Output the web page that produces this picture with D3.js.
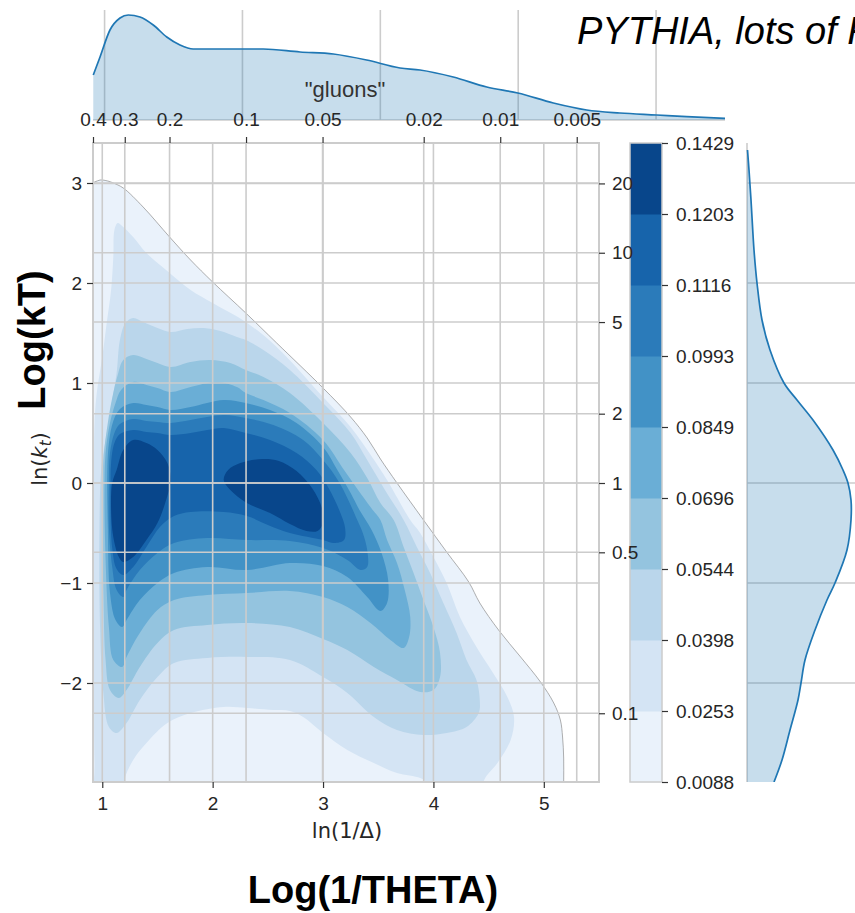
<!DOCTYPE html>
<html><head><meta charset="utf-8">
<script src="https://cdn.jsdelivr.net/npm/d3@7"></script>
<style>body{margin:0;background:#fff}svg{display:block}</style>
</head><body>
<svg id="chart" width="855" height="913"></svg>
<script>
// ---------------- data ----------------
const xTicks = [1, 2, 3, 4, 5];
const yTicks = [-2, -1, 0, 1, 2, 3];
const deltaTicks = [0.4, 0.3, 0.2, 0.1, 0.05, 0.02, 0.01, 0.005];
const ktTicks = [20, 10, 5, 2, 1, 0.5, 0.1];
const levels = [0.0088, 0.0253, 0.0398, 0.0544, 0.0696, 0.0849, 0.0993, 0.1116, 0.1203, 0.1429];
const levelColors = ['#eaf2fb', '#d4e4f4', '#bad6eb', '#94c4df', '#6aaed6', '#4292c6', '#2b7bba', '#1764ab', '#08468b'];

// contour outlines (ln(1/Δ), ln kt) for density > levels[i]
const contourL1 = [[0.70,3.0],[0.85,3.0],[0.93,3.01],[0.98,3.03],[1.05,3.02],[1.10,3.0],[1.19,2.95],[1.37,2.76],[1.61,2.46],[1.80,2.23],[2.0,2.01],[2.30,1.70],[2.58,1.40],[3.0,0.95],[3.25,0.66],[3.40,0.45],[3.52,0.24],[3.67,0.0],[3.91,-0.37],[4.12,-0.69],[4.32,-0.99],[4.42,-1.20],[4.59,-1.47],[4.79,-1.74],[4.97,-1.99],[5.09,-2.20],[5.15,-2.37],[5.17,-2.54],[5.18,-2.75],[5.18,-3.0],[5.18,-3.3],[3.0,-3.3],[0.70,-3.3]];
const contourL2 = [[1.11,2.53],[1.14,2.60],[1.18,2.57],[1.28,2.46],[1.40,2.30],[1.61,2.10],[1.80,1.93],[2.0,1.80],[2.30,1.61],[2.58,1.36],[3.0,0.86],[3.25,0.56],[3.45,0.25],[3.58,0.03],[3.79,-0.37],[3.88,-0.50],[4.00,-0.74],[4.12,-1.00],[4.24,-1.34],[4.39,-1.64],[4.54,-1.90],[4.67,-2.14],[4.73,-2.34],[4.70,-2.57],[4.58,-2.80],[4.46,-2.97],[4.40,-3.3],[3.96,-3.3],[3.93,-2.99],[3.88,-2.95],[3.67,-2.90],[3.46,-2.80],[3.22,-2.67],[3.0,-2.50],[2.82,-2.34],[2.70,-2.28],[2.55,-2.27],[2.31,-2.25],[2.10,-2.24],[1.80,-2.30],[1.59,-2.40],[1.40,-2.60],[1.28,-2.77],[1.20,-2.97],[1.17,-3.3],[0.95,-3.3],[0.93,-2.8],[0.925,-2.0],[0.925,-1.0],[0.925,0.0],[0.93,0.6],[0.95,0.90],[1.00,1.26],[1.04,1.60],[1.08,1.93],[1.10,2.26]];
const contourL3 = [[0.99,0.13],[1.03,0.43],[1.08,0.76],[1.13,1.10],[1.16,1.43],[1.21,1.60],[1.28,1.65],[1.37,1.61],[1.50,1.55],[1.62,1.51],[1.77,1.54],[1.92,1.55],[2.07,1.52],[2.22,1.46],[2.30,1.43],[2.46,1.33],[2.70,1.13],[3.0,0.80],[3.25,0.50],[3.40,0.23],[3.55,-0.05],[3.73,-0.37],[3.85,-0.64],[3.97,-0.90],[4.09,-1.20],[4.21,-1.50],[4.30,-1.77],[4.39,-1.97],[4.42,-2.17],[4.41,-2.30],[4.30,-2.44],[4.12,-2.50],[3.91,-2.52],[3.67,-2.47],[3.46,-2.34],[3.22,-2.10],[3.0,-1.94],[2.70,-1.77],[2.31,-1.74],[1.95,-1.75],[1.65,-1.80],[1.50,-1.94],[1.34,-2.17],[1.22,-2.40],[1.13,-2.50],[1.06,-2.44],[1.01,-2.10],[0.98,-1.44],[0.975,-0.44]];
const contourL4 = [[1.01,0.23],[1.05,0.60],[1.09,0.85],[1.14,1.08],[1.19,1.23],[1.28,1.28],[1.40,1.24],[1.50,1.20],[1.62,1.16],[1.80,1.21],[1.98,1.23],[2.16,1.20],[2.30,1.13],[2.46,1.06],[2.70,0.90],[3.0,0.60],[3.25,0.30],[3.40,0.05],[3.52,-0.20],[3.64,-0.37],[3.73,-0.64],[3.82,-0.90],[3.91,-1.17],[4.00,-1.44],[4.06,-1.70],[4.06,-1.94],[4.00,-2.07],[3.88,-2.09],[3.67,-1.97],[3.46,-1.84],[3.22,-1.67],[3.0,-1.56],[2.70,-1.44],[2.31,-1.40],[1.95,-1.42],[1.65,-1.47],[1.50,-1.60],[1.34,-1.84],[1.22,-2.07],[1.15,-2.15],[1.07,-2.07],[1.03,-1.77],[1.01,-1.10],[1.00,-0.44]];
const contourL5 = [[1.02,-0.10],[1.03,0.30],[1.07,0.60],[1.12,0.80],[1.17,0.93],[1.28,1.01],[1.40,0.98],[1.50,0.95],[1.62,0.91],[1.80,0.96],[2.04,1.01],[2.22,0.96],[2.30,0.90],[2.46,0.83],[2.70,0.70],[3.0,0.43],[3.19,0.13],[3.35,-0.12],[3.45,-0.27],[3.52,-0.37],[3.58,-0.57],[3.67,-0.80],[3.74,-1.07],[3.79,-1.34],[3.78,-1.54],[3.73,-1.65],[3.61,-1.57],[3.43,-1.40],[3.22,-1.24],[3.0,-1.14],[2.70,-1.08],[2.31,-1.10],[1.95,-1.12],[1.65,-1.17],[1.50,-1.27],[1.34,-1.50],[1.22,-1.74],[1.18,-1.84],[1.10,-1.77],[1.06,-1.44],[1.03,-0.77]];
const contourL6 = [[1.045,0.10],[1.06,0.40],[1.10,0.62],[1.16,0.74],[1.28,0.80],[1.40,0.78],[1.50,0.76],[1.62,0.73],[1.80,0.76],[2.10,0.83],[2.30,0.80],[2.52,0.73],[2.76,0.60],[3.0,0.36],[3.13,0.13],[3.25,-0.10],[3.33,-0.27],[3.44,-0.47],[3.53,-0.70],[3.59,-0.97],[3.58,-1.20],[3.52,-1.28],[3.40,-1.14],[3.22,-0.94],[3.0,-0.83],[2.70,-0.80],[2.31,-0.87],[1.95,-0.84],[1.65,-0.90],[1.50,-1.00],[1.34,-1.17],[1.22,-1.37],[1.18,-1.44],[1.12,-1.37],[1.07,-1.10],[1.05,-0.44]];
const contourL7 = [[1.06,0.0],[1.07,0.30],[1.11,0.50],[1.16,0.59],[1.28,0.64],[1.40,0.62],[1.50,0.61],[1.62,0.60],[1.80,0.63],[2.10,0.68],[2.30,0.65],[2.55,0.58],[2.82,0.43],[3.0,0.23],[3.15,0.0],[3.31,-0.37],[3.36,-0.50],[3.40,-0.67],[3.40,-0.84],[3.34,-0.87],[3.22,-0.77],[3.0,-0.65],[2.70,-0.58],[2.31,-0.57],[1.95,-0.55],[1.65,-0.60],[1.50,-0.70],[1.34,-0.87],[1.22,-1.07],[1.19,-1.14],[1.13,-1.07],[1.09,-0.84],[1.06,-0.44]];
const contourL8 = [[1.075,0.0],[1.08,0.20],[1.11,0.40],[1.16,0.49],[1.28,0.53],[1.40,0.51],[1.50,0.50],[1.62,0.48],[1.80,0.50],[1.95,0.53],[2.10,0.55],[2.30,0.50],[2.52,0.43],[2.76,0.30],[2.94,0.13],[3.05,-0.05],[3.15,-0.28],[3.20,-0.45],[3.19,-0.57],[3.10,-0.60],[3.00,-0.57],[2.70,-0.50],[2.50,-0.42],[2.31,-0.33],[2.10,-0.29],[1.80,-0.29],[1.65,-0.33],[1.53,-0.43],[1.40,-0.64],[1.28,-0.84],[1.19,-0.92],[1.13,-0.86],[1.09,-0.65],[1.075,-0.30]];
const contourL9left = [[1.09,0.0],[1.13,0.13],[1.19,0.33],[1.28,0.43],[1.40,0.40],[1.50,0.33],[1.59,0.20],[1.62,0.03],[1.57,-0.20],[1.50,-0.40],[1.40,-0.57],[1.28,-0.74],[1.19,-0.79],[1.15,-0.74],[1.10,-0.54],[1.08,-0.27]];
const contourL9right = [[2.10,0.03],[2.14,0.13],[2.25,0.20],[2.45,0.24],[2.60,0.22],[2.76,0.12],[2.90,-0.05],[2.99,-0.25],[3.00,-0.40],[2.95,-0.48],[2.85,-0.48],[2.70,-0.41],[2.52,-0.30],[2.31,-0.20],[2.16,-0.07]];

// marginal densities
const topKdeX = [0.918,0.967,1.039,1.112,1.172,1.257,1.353,1.451,1.547,1.643,1.934,2.151,2.418,2.659,2.901,3.143,3.288,3.529,3.772,3.997,4.255,4.497,4.738,5.005,5.222,5.5];
const topKdeDensity = [0.225,0.315,0.45,0.51,0.525,0.515,0.475,0.415,0.375,0.355,0.355,0.355,0.34,0.33,0.30,0.26,0.25,0.215,0.165,0.135,0.085,0.05,0.035,0.025,0.0165,0.0085];
const rightKdeY = [3.33,3.13,2.83,2.33,2.0,1.63,1.33,1.0,0.83,0.63,0.33,0.13,0.0,-0.17,-0.37,-0.67,-1.0,-1.17,-1.47,-1.77,-2.0,-2.17,-2.47,-2.77,-2.99];
const rightKdeDensity = [0.0025,0.01,0.02,0.035,0.05,0.075,0.115,0.185,0.25,0.33,0.43,0.48,0.505,0.52,0.52,0.5,0.44,0.40,0.34,0.29,0.27,0.255,0.215,0.175,0.135];

// ---------------- drawing ----------------
const svg = d3.select('#chart');
const FONT = "'Liberation Sans', Arial, Helvetica, sans-serif";
const TXT = '#262626';
const GRID = '#cccccc';

const x = d3.scaleLinear().domain([0.916, 5.5]).range([93, 599]);
const y = d3.scaleLinear().domain([-2.99, 3.4]).range([782, 143]);
const xDelta = d3.scaleLog().domain([0.4, Math.exp(-5.5)]).range([93, 599]);
const yKt = d3.scaleLog().domain([Math.exp(-2.99), Math.exp(3.4)]).range([782, 143]);
const xTop = d3.scaleLinear().domain([0.916, 5.5]).range([93, 725]);
const yTop = d3.scaleLinear().domain([0, 0.55]).range([120, 10]);
const xRight = d3.scaleLinear().domain([0, 0.55]).range([747, 857]);
const cbY = d3.scaleLinear().domain([0, 9]).range([782, 143]);

const defs = svg.append('defs');
defs.append('clipPath').attr('id', 'plotClip').append('rect')
  .attr('x', x.range()[0]).attr('y', y.range()[1])
  .attr('width', x.range()[1] - x.range()[0]).attr('height', y.range()[0] - y.range()[1]);
defs.append('clipPath').attr('id', 'rightClip').append('rect')
  .attr('x', 740).attr('y', y.range()[1]).attr('width', 120).attr('height', y.range()[0] - y.range()[1]);

// --- top marginal ---
const gTop = svg.append('g');
gTop.selectAll('line.vg').data(xTicks).join('line')
  .attr('x1', d => xTop(d)).attr('x2', d => xTop(d)).attr('y1', yTop(0.55)).attr('y2', yTop(0))
  .attr('stroke', GRID).attr('stroke-width', 1.6);
gTop.append('line').attr('x1', xTop(0.916)).attr('x2', xTop(5.5)).attr('y1', yTop(0)).attr('y2', yTop(0))
  .attr('stroke', GRID).attr('stroke-width', 1.6);
const topData = topKdeX.map((v, i) => [v, topKdeDensity[i]]);
gTop.append('path').datum(topData)
  .attr('d', d3.area().x(d => xTop(d[0])).y0(yTop(0)).y1(d => yTop(d[1])).curve(d3.curveMonotoneX))
  .attr('fill', '#1f77b4').attr('fill-opacity', 0.25);
gTop.append('path').datum(topData)
  .attr('d', d3.line().x(d => xTop(d[0])).y(d => yTop(d[1])).curve(d3.curveMonotoneX))
  .attr('fill', 'none').attr('stroke', '#1f77b4').attr('stroke-width', 1.7);
gTop.append('text').attr('x', 345).attr('y', 97).attr('text-anchor', 'middle')
  .attr('font-family', FONT).attr('font-size', 22).attr('fill', '#333')
  .text('"gluons"');

// --- right marginal ---
const gRight = svg.append('g');
gRight.selectAll('line.hg').data(yTicks).join('line')
  .attr('x1', xRight(0)).attr('x2', 855).attr('y1', d => y(d)).attr('y2', d => y(d))
  .attr('stroke', GRID).attr('stroke-width', 1.6);
gRight.append('line').attr('x1', xRight(0)).attr('x2', xRight(0)).attr('y1', y.range()[1]).attr('y2', y.range()[0])
  .attr('stroke', GRID).attr('stroke-width', 1.6);
const rightData = rightKdeY.map((v, i) => [v, rightKdeDensity[i]]);
const gRC = gRight.append('g').attr('clip-path', 'url(#rightClip)');
gRC.append('path').datum(rightData)
  .attr('d', d3.area().y(d => y(d[0])).x0(xRight(0)).x1(d => xRight(d[1])).curve(d3.curveCatmullRom.alpha(0.5)))
  .attr('fill', '#1f77b4').attr('fill-opacity', 0.25);
gRC.append('path').datum(rightData)
  .attr('d', d3.line().y(d => y(d[0])).x(d => xRight(d[1])).curve(d3.curveCatmullRom.alpha(0.5)))
  .attr('fill', 'none').attr('stroke', '#1f77b4').attr('stroke-width', 1.7);

// --- main contours ---
const gMain = svg.append('g').attr('clip-path', 'url(#plotClip)');
const cLine = d3.line().x(d => x(d[0])).y(d => y(d[1])).curve(d3.curveCatmullRomClosed.alpha(0.5));
const contourSets = [[contourL1], [contourL2], [contourL3], [contourL4], [contourL5], [contourL6], [contourL7], [contourL8], [contourL9left, contourL9right]];
contourSets.forEach((polys, i) => {
  polys.forEach(p => {
    gMain.append('path').datum(p).attr('d', cLine)
      .attr('fill', levelColors[i])
      .attr('stroke', i === 0 ? '#8c8c8c' : 'none')
      .attr('stroke-width', i === 0 ? 0.7 : 0);
  });
});

// --- main gridlines ---
const vGrid = xTicks.concat(deltaTicks.map(d => Math.log(1 / d)));
const hGrid = yTicks.concat(ktTicks.map(d => Math.log(d)));
const gGrid = svg.append('g');
gGrid.selectAll('line.v').data(vGrid).join('line')
  .attr('x1', d => x(d)).attr('x2', d => x(d)).attr('y1', y.range()[1]).attr('y2', y.range()[0])
  .attr('stroke', GRID).attr('stroke-width', 1.6);
gGrid.selectAll('line.h').data(hGrid).join('line')
  .attr('x1', x.range()[0]).attr('x2', x.range()[1]).attr('y1', d => y(d)).attr('y2', d => y(d))
  .attr('stroke', GRID).attr('stroke-width', 1.6);
svg.append('rect').attr('x', x.range()[0]).attr('y', y.range()[1])
  .attr('width', x.range()[1] - x.range()[0]).attr('height', y.range()[0] - y.range()[1])
  .attr('fill', 'none').attr('stroke', GRID).attr('stroke-width', 2);

// --- colorbar ---
const gCb = svg.append('g');
gCb.selectAll('rect.band').data(levelColors).join('rect')
  .attr('x', 630).attr('width', 32)
  .attr('y', (d, i) => cbY(i + 1)).attr('height', (d, i) => cbY(i) - cbY(i + 1) + 0.5)
  .attr('fill', d => d);
gCb.append('rect').attr('x', 630).attr('y', cbY(9)).attr('width', 32).attr('height', cbY(0) - cbY(9))
  .attr('fill', 'none').attr('stroke', GRID).attr('stroke-width', 1.5);

// --- axes ---
function styleAxis(g) {
  g.select('.domain').remove();
  g.selectAll('.tick line').attr('stroke', '#333').attr('stroke-width', 1.2);
  g.selectAll('.tick text').attr('font-family', FONT).attr('font-size', 19).attr('fill', TXT);
}
gCb.append('g').attr('transform', 'translate(662,0)')
  .call(d3.axisRight(cbY).tickValues(d3.range(levels.length)).tickSize(6).tickPadding(8).tickFormat(i => levels[i].toFixed(4)))
  .call(styleAxis);
svg.append('g').attr('transform', `translate(0,${y.range()[0]})`)
  .call(d3.axisBottom(x).tickValues(xTicks).tickSize(6).tickPadding(9).tickFormat(d3.format('d')))
  .call(styleAxis);
svg.append('g').attr('transform', `translate(${x.range()[0]},0)`)
  .call(d3.axisLeft(y).tickValues(yTicks).tickSize(6).tickPadding(5).tickFormat(d3.format('d')))
  .call(styleAxis);
svg.append('g').attr('transform', `translate(${x.range()[1]},0)`)
  .call(d3.axisRight(yKt).tickValues(ktTicks).tickSize(6).tickPadding(7).tickFormat(d => String(d)))
  .call(styleAxis);
svg.append('g').attr('transform', `translate(0,${y.range()[1]})`)
  .call(d3.axisTop(xDelta).tickValues(deltaTicks).tickSize(6).tickPadding(11).tickFormat(d => String(d)))
  .call(styleAxis);

// --- labels ---
svg.append('text').attr('x', 347).attr('y', 838).attr('text-anchor', 'middle')
  .attr('font-family', "'DejaVu Sans', sans-serif").attr('font-size', 21).attr('fill', TXT)
  .text('ln(1/Δ)');
const yl = svg.append('text').attr('transform', 'translate(47,459) rotate(-90)').attr('text-anchor', 'middle')
  .attr('font-family', "'DejaVu Sans', sans-serif").attr('font-size', 21).attr('fill', TXT);
yl.append('tspan').text('ln(');
yl.append('tspan').attr('font-style', 'italic').text('k');
yl.append('tspan').attr('font-style', 'italic').attr('font-size', 15).attr('dy', 4).text('t');
yl.append('tspan').attr('dy', -4).text(')');

svg.append('text').attr('transform', 'translate(45,340) rotate(-90)').attr('text-anchor', 'middle')
  .attr('font-family', FONT).attr('font-weight', 'bold').attr('font-size', 38).attr('fill', '#000')
  .text('Log(kT)');
svg.append('text').attr('x', 373).attr('y', 903).attr('text-anchor', 'middle')
  .attr('font-family', FONT).attr('font-weight', 'bold').attr('font-size', 38).attr('fill', '#000')
  .text('Log(1/THETA)');
svg.append('text').attr('x', 577).attr('y', 44)
  .attr('font-family', FONT).attr('font-style', 'italic').attr('font-size', 38).attr('fill', '#000')
  .text('PYTHIA, lots of FSR');
</script>
</body></html>
